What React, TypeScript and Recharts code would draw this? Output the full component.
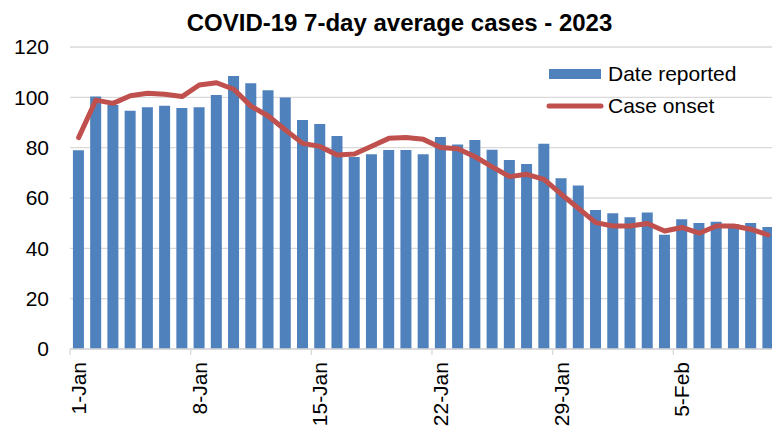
import React from 'react';
import { ComposedChart, Bar, Line, XAxis, YAxis, CartesianGrid, Legend } from 'recharts';

const days = [
  '1-Jan', '2-Jan', '3-Jan', '4-Jan', '5-Jan', '6-Jan', '7-Jan',
  '8-Jan', '9-Jan', '10-Jan', '11-Jan', '12-Jan', '13-Jan', '14-Jan',
  '15-Jan', '16-Jan', '17-Jan', '18-Jan', '19-Jan', '20-Jan', '21-Jan',
  '22-Jan', '23-Jan', '24-Jan', '25-Jan', '26-Jan', '27-Jan', '28-Jan',
  '29-Jan', '30-Jan', '31-Jan', '1-Feb', '2-Feb', '3-Feb', '4-Feb',
  '5-Feb', '6-Feb', '7-Feb', '8-Feb', '9-Feb', '10-Feb',
];

const dateReported = [
  79, 100.3, 97, 94.7, 96.1, 96.7, 95.8,
  96.1, 100.9, 108.5, 105.6, 102.8, 99.9, 91,
  89.4, 84.6, 76.3, 77.4, 79.1, 79.1, 77.4,
  84.2, 81.3, 83, 79.2, 75.1, 73.5, 81.6,
  67.8, 65, 55.2, 53.9, 52.4, 54.2, 45.4,
  51.6, 50.1, 50.6, 49.7, 50.1, 48.5,
];

const caseOnset = [
  84, 98.9, 97.6, 100.6, 101.6, 101.2, 100.3,
  104.9, 105.8, 103.2, 96.5, 92.6, 87, 81.7,
  80.5, 77.1, 77.5, 80.6, 83.7, 84, 83.3,
  80.1, 79.6, 76.4, 72.4, 68.5, 69.4, 67.4,
  61.5, 55.9, 50.2, 48.9, 48.9, 49.9, 46.9,
  48.3, 46, 48.9, 48.9, 47.6, 45.3,
];

const yTicks = [0, 20, 40, 60, 80, 100, 120];
const labelEvery = 7;

const TITLE = 'COVID-19 7-day average cases - 2023';
const SERIES_BAR = 'Date reported';
const SERIES_LINE = 'Case onset';

const BAR_COLOR = '#4F81BD';
const LINE_COLOR = '#C0504D';
const GRID_COLOR = '#D9D9D9';
const FONT = '"Liberation Sans", Arial, Helvetica, sans-serif';

const data = days.map((d, i) => ({ day: d, reported: dateReported[i], onset: caseOnset[i] }));

const CHART_W = 800;
const CHART_H = 428;
const PLOT_LEFT = 70;
const PLOT_RIGHT = 776.7;
const BAND = (PLOT_RIGHT - PLOT_LEFT) / days.length;

const XTick = (props: any) => {
  const { x, y, payload, index } = props;
  const idx = payload && typeof payload.index === 'number' ? payload.index : index;
  if (idx % labelEvery !== 0) return <g />;
  const off = payload && typeof payload.offset === 'number' && payload.offset > 0 ? payload.offset : BAND / 2;
  const bx = x - off;
  return (
    <g>
      <line x1={bx} x2={bx} y1={y - 13} y2={y - 7} stroke={GRID_COLOR} strokeWidth={1.3} />
      <text
        x={x}
        y={y}
        transform={`rotate(-90, ${x}, ${y})`}
        textAnchor="end"
        dy="0.35em"
        fontSize={21}
        fontFamily={FONT}
        fill="#000"
      >
        {payload.value}
      </text>
    </g>
  );
};

const LegendContent = () => (
  <div style={{ fontFamily: FONT, fontSize: 21, color: '#000' }}>
    <div style={{ display: 'flex', alignItems: 'center', height: 32 }}>
      <svg width={58} height={14} style={{ display: 'block' }}>
        <rect x={3} y={2} width={52} height={10} fill={BAR_COLOR} />
      </svg>
      <span style={{ marginLeft: 4, lineHeight: '32px', whiteSpace: 'nowrap' }}>{SERIES_BAR}</span>
    </div>
    <div style={{ display: 'flex', alignItems: 'center', height: 32 }}>
      <svg width={58} height={14} style={{ display: 'block' }}>
        <line x1={3} x2={55} y1={7} y2={7} stroke={LINE_COLOR} strokeWidth={5} strokeLinecap="round" />
      </svg>
      <span style={{ marginLeft: 4, lineHeight: '32px', whiteSpace: 'nowrap' }}>{SERIES_LINE}</span>
    </div>
  </div>
);

export default function App() {
  return (
    <div
      style={{
        position: 'absolute',
        left: 0,
        top: 0,
        width: 772,
        height: 428,
        overflow: 'hidden',
        background: '#fff',
      }}
    >
      <div
        style={{
          position: 'absolute',
          left: 0,
          width: 799,
          top: 9,
          textAlign: 'center',
          fontFamily: FONT,
          fontWeight: 'bold',
          fontSize: 24,
          lineHeight: '27px',
          color: '#000',
          whiteSpace: 'nowrap',
        }}
      >
        {TITLE}
      </div>
      <ComposedChart
        width={CHART_W}
        height={CHART_H}
        data={data}
        margin={{ top: 47, right: CHART_W - PLOT_RIGHT, bottom: 0, left: 0 }}
        barCategoryGap="17%"
      >
        <CartesianGrid vertical={false} stroke={GRID_COLOR} strokeWidth={1.3} />
        <XAxis
          dataKey="day"
          interval={0}
          height={79}
          axisLine={{ stroke: GRID_COLOR, strokeWidth: 1.3 }}
          tickLine={false}
          tickSize={6}
          tickMargin={7}
          tick={<XTick />}
        />
        <YAxis
          width={PLOT_LEFT}
          domain={[0, 120]}
          ticks={yTicks}
          interval={0}
          axisLine={false}
          tickLine={false}
          tickSize={0}
          tickMargin={21}
          tick={{ fontSize: 21, fontFamily: FONT, fill: '#000' }}
        />
        <Legend
          layout="vertical"
          align="center"
          verticalAlign="middle"
          content={<LegendContent />}
          wrapperStyle={{ position: 'absolute', top: 58, left: 546, width: 230 }}
        />
        <Bar dataKey="reported" name={SERIES_BAR} fill={BAR_COLOR} isAnimationActive={false} />
        <Line
          dataKey="onset"
          name={SERIES_LINE}
          type="linear"
          stroke={LINE_COLOR}
          strokeWidth={5}
          strokeLinejoin="round"
          strokeLinecap="round"
          dot={false}
          activeDot={false}
          isAnimationActive={false}
        />
      </ComposedChart>
    </div>
  );
}
